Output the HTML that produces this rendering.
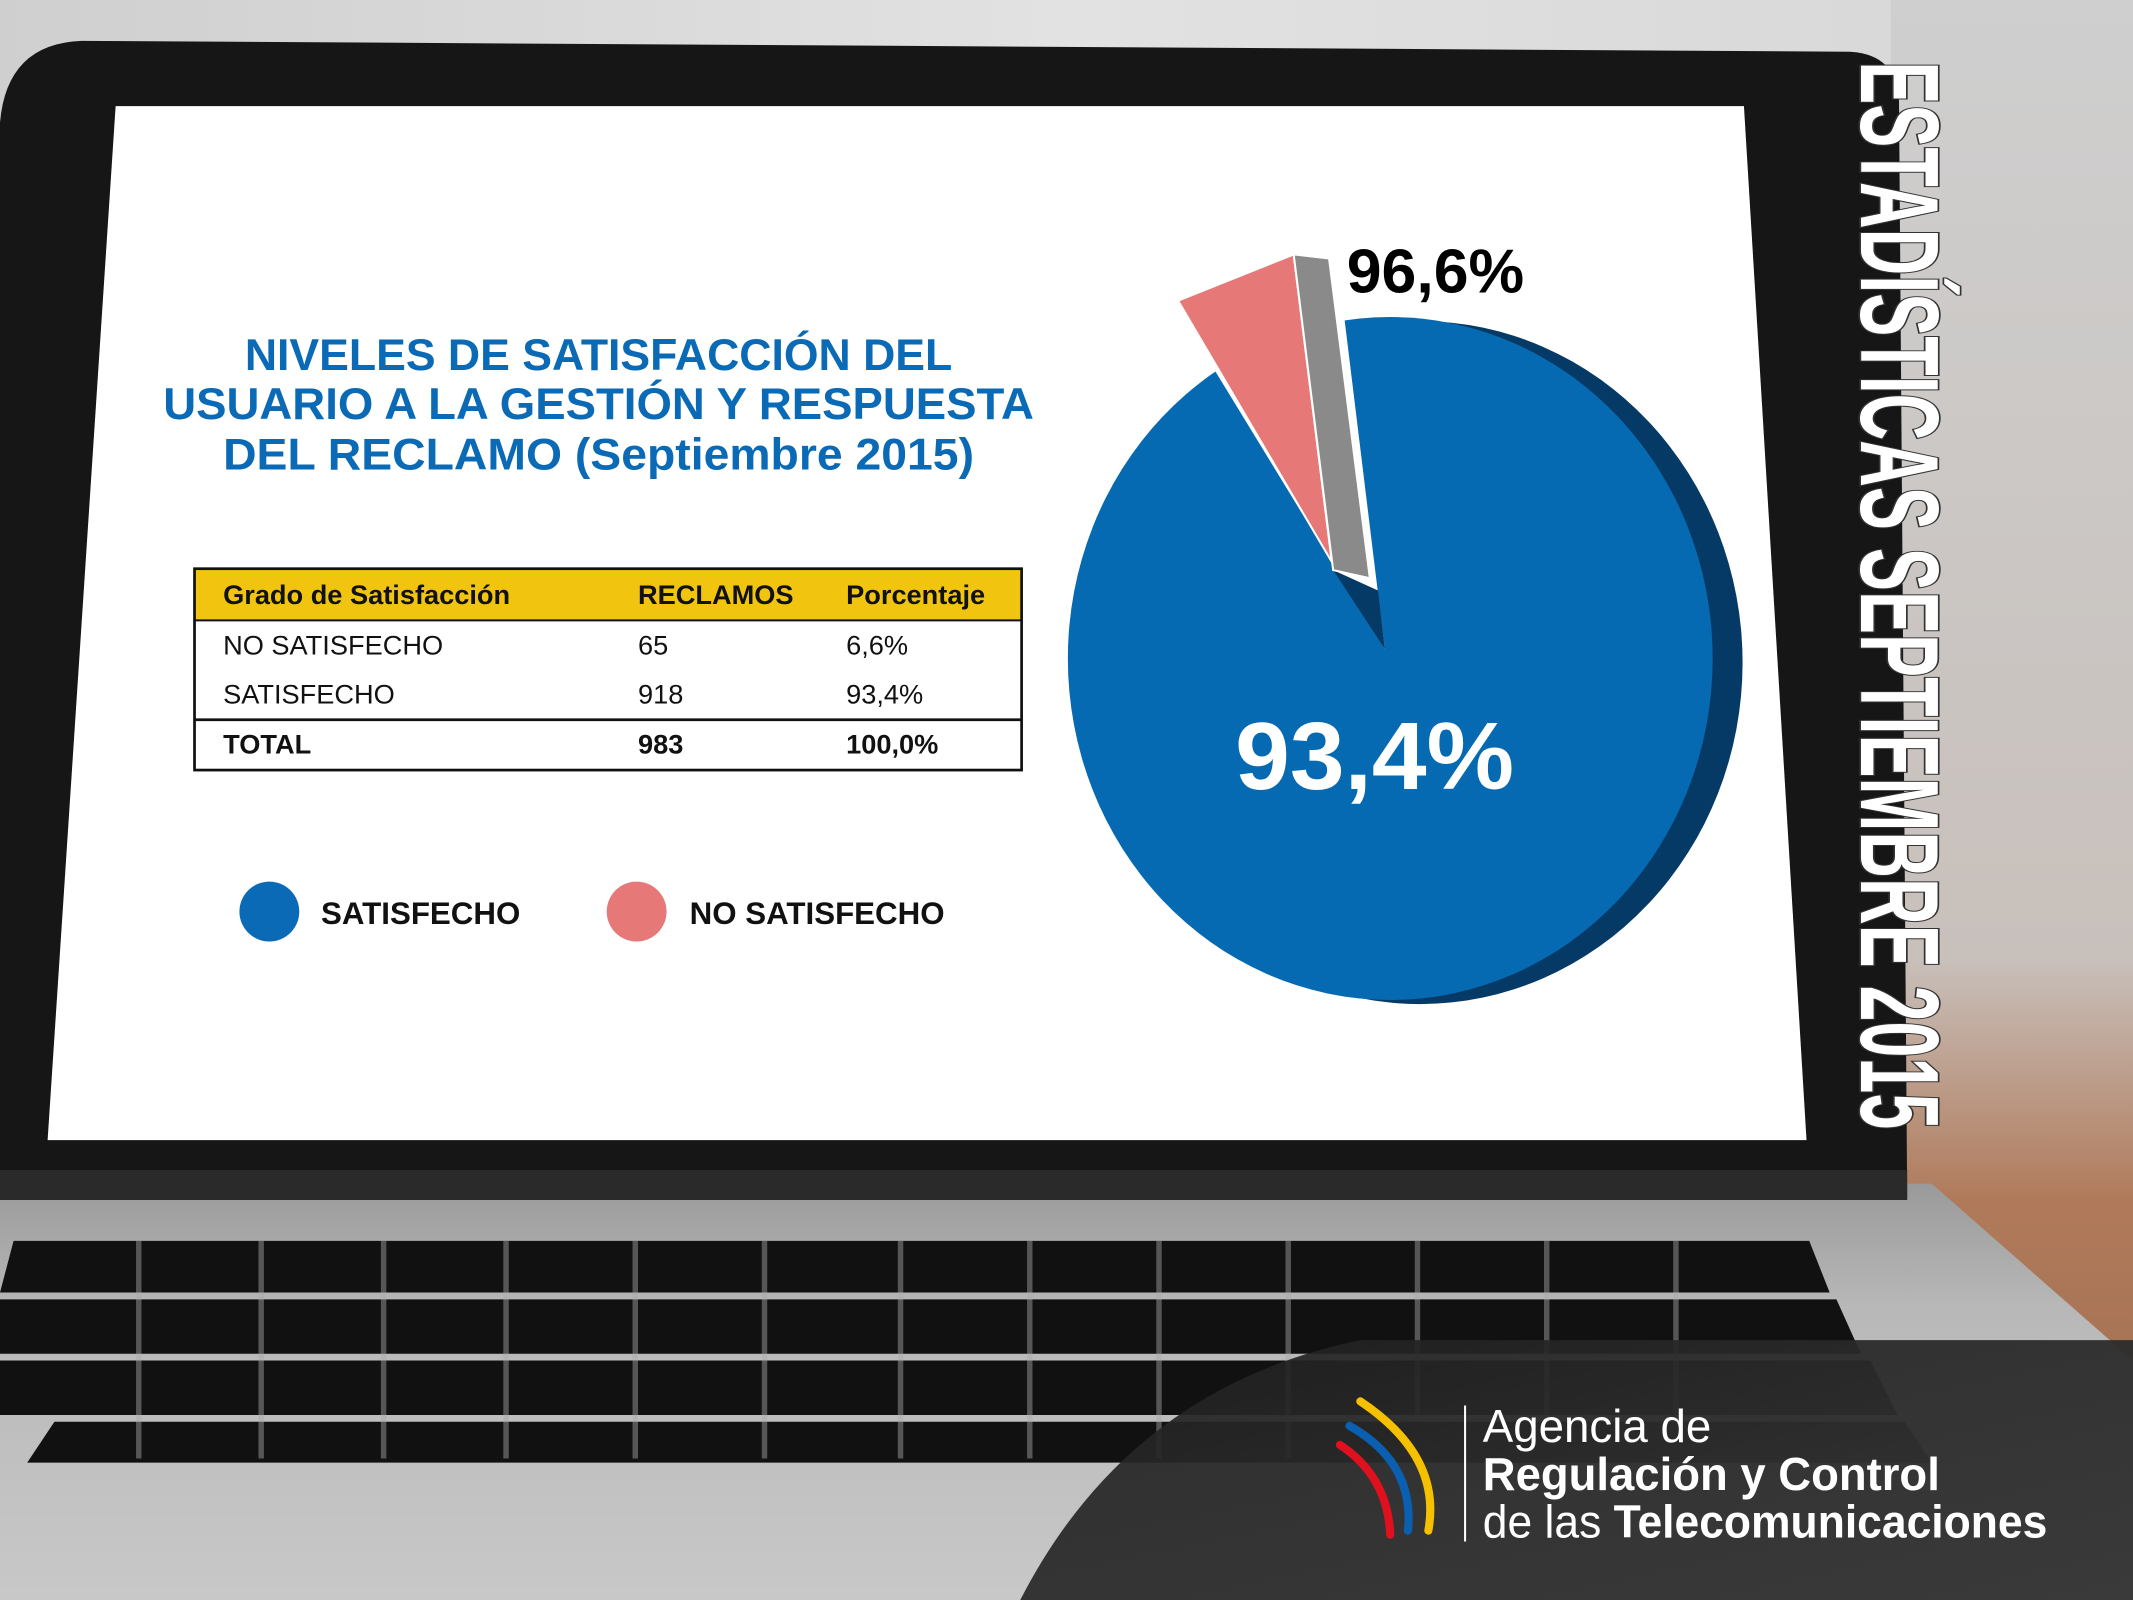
<!DOCTYPE html>
<html><head><meta charset="utf-8"><style>
html,body{margin:0;padding:0;width:2133px;height:1600px;overflow:hidden;background:#ccc}
svg{display:block}
</style></head><body>
<svg width="2133" height="1600" viewBox="0 0 1568 1176" preserveAspectRatio="none" xmlns="http://www.w3.org/2000/svg" font-family="Liberation Sans, sans-serif">
<defs>
<linearGradient id="bg" x1="0" y1="0" x2="1" y2="0">
<stop offset="0" stop-color="#cfcfcf"/><stop offset="0.5" stop-color="#e2e2e2"/><stop offset="1" stop-color="#d6d6d6"/>
</linearGradient>
<linearGradient id="kb" x1="0" y1="0" x2="0" y2="1">
<stop offset="0" stop-color="#9a9a9a"/><stop offset="0.3" stop-color="#b8b8b8"/><stop offset="1" stop-color="#c8c8c8"/>
</linearGradient>
<linearGradient id="panel" x1="0" y1="0" x2="1" y2="1">
<stop offset="0" stop-color="#1e1e1e" stop-opacity="0.9"/><stop offset="1" stop-color="#3a3a3a"/>
</linearGradient>
<linearGradient id="wood" x1="0" y1="0" x2="0" y2="1">
<stop offset="0" stop-color="#cfcfcf"/><stop offset="0.6" stop-color="#c8c0bb"/><stop offset="0.75" stop-color="#b07a5a"/><stop offset="1" stop-color="#9a6a50"/>
</linearGradient>
</defs>
<rect width="1568" height="1176" fill="url(#bg)"/>
<rect x="1390" y="0" width="178" height="1176" fill="url(#wood)"/>
<polygon points="0,870 1420,870 1568,1000 1568,1176 0,1176" fill="url(#kb)"/>
<g fill="#111">
<polygon points="10,912 1330,912 1345,950 0,950"/>
<polygon points="0,955 1350,955 1368,995 0,995"/>
<polygon points="0,1000 1375,1000 1395,1040 0,1040"/>
<polygon points="40,1045 1400,1045 1420,1075 20,1075"/>
</g>
<g fill="#aaa" opacity="0.45">
<rect x="100" y="912" width="4" height="160"/><rect x="190" y="912" width="4" height="160"/>
<rect x="280" y="912" width="4" height="160"/><rect x="370" y="912" width="4" height="160"/>
<rect x="465" y="912" width="4" height="160"/><rect x="560" y="912" width="4" height="160"/>
<rect x="660" y="912" width="4" height="160"/><rect x="755" y="912" width="4" height="160"/>
<rect x="850" y="912" width="4" height="160"/><rect x="945" y="912" width="4" height="160"/>
<rect x="1040" y="912" width="4" height="130"/><rect x="1135" y="912" width="4" height="130"/>
<rect x="1230" y="912" width="4" height="130"/>
</g>
<path d="M60,30 L1360,38 Q1395,40 1396,75 L1402,880 L0,880 L0,90 Q5,32 60,30 Z" fill="#161616"/>
<rect x="0" y="860" width="1402" height="22" fill="#2a2a2a"/>
<polygon points="85,78 1282,78 1328,838 35,838" fill="#fff"/>
<g fill="#0a6ab5" font-weight="bold" font-size="33" text-anchor="middle">
<text x="440" y="272" textLength="520" lengthAdjust="spacingAndGlyphs">NIVELES DE SATISFACCIÓN DEL</text>
<text x="440" y="308" textLength="640" lengthAdjust="spacingAndGlyphs">USUARIO A LA GESTIÓN Y RESPUESTA</text>
<text x="440" y="345" textLength="552" lengthAdjust="spacingAndGlyphs">DEL RECLAMO (Septiembre 2015)</text>
</g>
<rect x="143" y="418" width="608" height="38" fill="#f0c40f"/>
<rect x="143" y="418" width="608" height="148" fill="none" stroke="#111" stroke-width="2"/>
<line x1="143" y1="456" x2="751" y2="456" stroke="#111" stroke-width="1.5"/>
<line x1="143" y1="529" x2="751" y2="529" stroke="#111" stroke-width="2"/>
<g font-size="20" fill="#111">
<text x="164" y="444" font-weight="bold">Grado de Satisfacción</text>
<text x="469" y="444" font-weight="bold">RECLAMOS</text>
<text x="622" y="444" font-weight="bold">Porcentaje</text>
<text x="164" y="481">NO SATISFECHO</text><text x="469" y="481">65</text><text x="622" y="481">6,6%</text>
<text x="164" y="517">SATISFECHO</text><text x="469" y="517">918</text><text x="622" y="517">93,4%</text>
<text x="164" y="554" font-weight="bold">TOTAL</text><text x="469" y="554" font-weight="bold">983</text><text x="622" y="554" font-weight="bold">100,0%</text>
</g>
<circle cx="198" cy="670" r="22" fill="#0a6ab5"/>
<text x="236" y="679" font-size="23" font-weight="bold" fill="#111">SATISFECHO</text>
<circle cx="468" cy="670" r="22" fill="#e67878"/>
<text x="507" y="679" font-size="23" font-weight="bold" fill="#111">NO SATISFECHO</text>
<ellipse cx="1044" cy="487" rx="237" ry="251" fill="#063a66"/>
<ellipse cx="1022" cy="484" rx="237" ry="251" fill="#066ab2"/>
<polygon points="1018,477 833,174 860,90 974,90 974,117" fill="#fff"/>
<polygon points="980,419 1013,434 1018,477" fill="#063a66"/>
<polygon points="866,221 951,187 979,413" fill="#e67878" stroke="#fff" stroke-width="1.5"/>
<polygon points="951,187 977,190 1007,425 980,419" fill="#8a8a8a" stroke="#fff" stroke-width="1.5"/>
<text x="990" y="215" font-size="46" font-weight="bold" fill="#000">96,6%</text>
<text x="908" y="580" font-size="70" font-weight="bold" fill="#fff" textLength="205" lengthAdjust="spacingAndGlyphs">93,4%</text>
<text transform="translate(1368,45) rotate(90)" font-size="82" font-weight="bold" fill="#fff" stroke="#333" stroke-width="2.5" paint-order="stroke" textLength="785" lengthAdjust="spacingAndGlyphs">ESTADÍSTICAS SEPTIEMBRE 2015</text>
<path d="M750,1176 Q830,1020 1000,985 L1568,985 L1568,1176 Z" fill="url(#panel)"/>
<g fill="none" stroke-width="6" stroke-linecap="round">
<path d="M1000,1030 Q1060,1070 1050,1125" stroke="#f5c000"/>
<path d="M992,1048 Q1040,1075 1035,1125" stroke="#0a5fb0"/>
<path d="M985,1062 Q1020,1085 1022,1128" stroke="#e0101e"/>
</g>
<line x1="1077" y1="1033" x2="1077" y2="1133" stroke="#fff" stroke-width="1.5"/>
<g fill="#fff" font-size="34">
<text x="1090" y="1060" textLength="168" lengthAdjust="spacingAndGlyphs">Agencia de</text>
<text x="1090" y="1095" font-weight="bold" textLength="336" lengthAdjust="spacingAndGlyphs">Regulación y Control</text>
<text x="1090" y="1130" textLength="415" lengthAdjust="spacingAndGlyphs">de las <tspan font-weight="bold">Telecomunicaciones</tspan></text>
</g>
</svg>
</body></html>
